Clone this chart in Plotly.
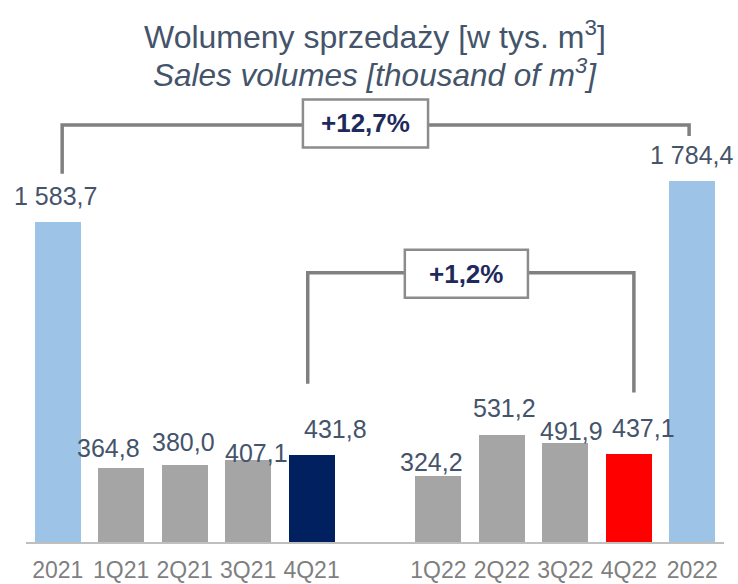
import plotly.graph_objects as go

# ---- data ----
categories = ["2021", "1Q21", "2Q21", "3Q21", "4Q21", " ", "1Q22", "2Q22", "3Q22", "4Q22", "2022"]
values = [1583.7, 364.8, 380.0, 407.1, 431.8, None, 324.2, 531.2, 491.9, 437.1, 1784.4]
value_labels = ["1 583,7", "364,8", "380,0", "407,1", "431,8", "", "324,2", "531,2", "491,9", "437,1", "1 784,4"]
title_pl = "Wolumeny sprzedaży [w tys. m<sup>3</sup>]"
title_en = "<i>Sales volumes [thousand of m<sup>3</sup>]</i>"
change_year = "+12,7%"
change_q4 = "+1,2%"

# ---- styles ----
LIGHT_BLUE = "#9dc3e6"
GRAY = "#a5a5a5"
NAVY = "#002060"
RED = "#ff0000"
bar_colors = [LIGHT_BLUE, GRAY, GRAY, GRAY, NAVY, GRAY, GRAY, GRAY, GRAY, RED, LIGHT_BLUE]
label_dx = [-2, -13, -1, 8, 24, 0, -7, 3, 6, 15, 0]
label_gap = [17, 11, 14, -2, 17, 0, 5, 18, 3, 17, 17]
FONT = "Arial, Liberation Sans, sans-serif"
TXT = "#44546a"
LINE = "#808080"

H_TOP = 60
H_BOT = 41.5
H = 584 - H_TOP - H_BOT
PX_PER_UNIT = 0.2024


def py(pix):
    return (584 - H_BOT - pix) / H


fig = go.Figure()
fig.add_trace(go.Bar(
    x=categories, y=values, marker_color=bar_colors, marker_line_width=0,
    width=0.725, hoverinfo="skip", showlegend=False,
))

annotations = []
for i, (v, t, dx, g) in enumerate(zip(values, value_labels, label_dx, label_gap)):
    if v is None:
        continue
    annotations.append(dict(
        x=i, y=v, xref="x", yref="y", text=t, showarrow=False,
        xanchor="center", yanchor="bottom", xshift=dx, yshift=g - 7,
        font=dict(family=FONT, size=25, color=TXT),
    ))

annotations.append(dict(x=0.5, xref="paper", y=py(35), yref="paper", text=title_pl,
                        showarrow=False, xanchor="center", yanchor="middle",
                        font=dict(family=FONT, size=32, color=TXT)))
annotations.append(dict(x=0.5, xref="paper", y=py(73), yref="paper", text=title_en,
                        showarrow=False, xanchor="center", yanchor="middle",
                        font=dict(family=FONT, size=31.5, color=TXT)))

# brackets and boxes (positions in axis coordinates: category index / value units)
shapes = []
line = dict(color=LINE, width=3.5)
shapes.append(dict(type="path", xref="x", yref="y",
                   path="M 0.07 1821 L 0.07 2063 L 9.95 2063 L 9.95 2008", line=line))
shapes.append(dict(type="path", xref="x", yref="y",
                   path="M 3.94 783 L 3.94 1332 L 9.08 1332 L 9.08 739", line=line))
shapes.append(dict(type="rect", xref="x", yref="y", x0=3.864, x1=5.836, y0=1951, y1=2188,
                   line=dict(color="#8c8c8c", width=2.5), fillcolor="white"))
shapes.append(dict(type="rect", xref="x", yref="y", x0=5.47, x1=7.41, y0=1208, y1=1445,
                   line=dict(color="#8c8c8c", width=2.5), fillcolor="white"))

annotations.append(dict(x=4.85, y=2070, xref="x", yref="y", text="<b>" + change_year + "</b>",
                        showarrow=False, font=dict(family=FONT, size=26, color="#1f2a5c")))
annotations.append(dict(x=6.44, y=1327, xref="x", yref="y", text="<b>" + change_q4 + "</b>",
                        showarrow=False, font=dict(family=FONT, size=26, color="#1f2a5c")))

fig.update_layout(
    width=738, height=584,
    margin=dict(l=26.3, r=14.3, t=H_TOP, b=H_BOT, pad=0, autoexpand=False),
    plot_bgcolor="white", paper_bgcolor="white",
    bargap=0,
    xaxis=dict(type="category", categoryorder="array", categoryarray=categories,
               range=[-0.5, 10.5], showgrid=False, zeroline=False, automargin=False,
               showline=True, linecolor="#bfbfbf", linewidth=2, ticks="",
               ticklabelstandoff=6,
               tickfont=dict(family=FONT, size=23, color="#7f7f7f"), fixedrange=True),
    yaxis=dict(range=[0, H / PX_PER_UNIT], visible=False, fixedrange=True, automargin=False),
    shapes=shapes,
    annotations=annotations,
)

fig.write_html("out.html", config={"displayModeBar": False},
               post_script="document.body.style.margin='0';")
